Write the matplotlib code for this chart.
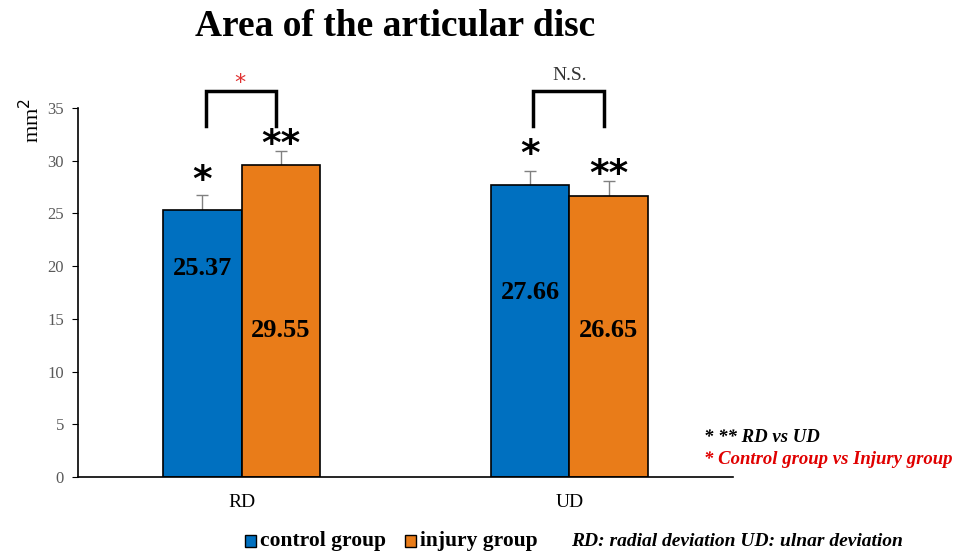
import numpy as np
import matplotlib.pyplot as plt
from matplotlib.patches import Rectangle

plt.rcParams['font.family'] = ['Liberation Serif', 'DejaVu Serif']

# data
groups = ["RD", "UD"]
control = [25.37, 27.66]
injury = [29.55, 26.65]
control_err = [1.4, 1.35]
injury_err = [1.35, 1.45]
y_ticks = [0, 5, 10, 15, 20, 25, 30, 35]
bracket_labels = ["*", "N.S."]

blue = "#0070C0"
orange = "#E97C19"
w = 0.24

fig = plt.figure(figsize=(9.63, 5.53), dpi=100)
ax = fig.add_axes([78 / 963, 1 - 477 / 553, (733 - 78) / 963, 369 / 553])

x = np.arange(len(groups))
ax.bar(x - w / 2, control, w, color=blue, edgecolor="black", linewidth=1.2, zorder=2)
ax.bar(x + w / 2, injury, w, color=orange, edgecolor="black", linewidth=1.2, zorder=2)
ax.errorbar(x - w / 2, control, yerr=[[0, 0], control_err], fmt="none",
            ecolor="#808080", elinewidth=1, capsize=4, zorder=1)
ax.errorbar(x + w / 2, injury, yerr=[[0, 0], injury_err], fmt="none",
            ecolor="#808080", elinewidth=1, capsize=4, zorder=1)

# value labels inside bars
lab_y_c = [19.8, 17.5]
lab_y_i = [13.9, 13.9]
for i in range(len(groups)):
    ax.text(x[i] - w / 2, lab_y_c[i], f"{control[i]:.2f}", ha="center", va="center",
            fontsize=19, fontweight="bold", color="black")
    ax.text(x[i] + w / 2, lab_y_i[i], f"{injury[i]:.2f}", ha="center", va="center",
            fontsize=19, fontweight="bold", color="black")

# RD vs UD stars
star_kw = dict(ha="center", va="center", fontsize=27, fontweight="bold",
               family=["DejaVu Sans"], clip_on=False)
ax.text(x[0] - w / 2, 28.1, "*", **star_kw)
ax.text(x[0] + w / 2, 31.5, "**", **star_kw)
ax.text(x[1] - w / 2, 30.5, "*", **star_kw)
ax.text(x[1] + w / 2, 28.6, "**", **star_kw)

# brackets between groups
for i in range(len(groups)):
    xl = x[i] - 0.11
    xr = x[i] + 0.105
    ax.plot([xl, xl, xr, xr], [33.3, 36.6, 36.6, 33.3], color="black", lw=2.5,
            clip_on=False, solid_joinstyle="miter")
ax.text(x[0] - 0.005, 37.4, bracket_labels[0], ha="center", va="center", fontsize=16,
        color="#E03030", family=["DejaVu Sans"], clip_on=False)
ax.text(x[1], 38.1, bracket_labels[1], ha="center", va="center", fontsize=14,
        color="#333333", clip_on=False)

ax.set_xlim(-0.5, 1.5)
ax.set_ylim(0, 35)
ax.set_yticks(y_ticks)
ax.set_xticks(x)
ax.set_xticklabels(groups, fontsize=14)
ax.tick_params(axis="x", length=0, pad=12)
ax.tick_params(axis="y", labelsize=12, labelcolor="#595959", direction="out", length=4, pad=6)
ax.spines["top"].set_visible(False)
ax.spines["right"].set_visible(False)
ax.spines["left"].set_linewidth(1.2)
ax.spines["bottom"].set_linewidth(1.2)

fig.text(32 / 963, 1 - 120 / 553, "mm$^2$", rotation=90, ha="center", va="center", fontsize=16)
fig.text(395 / 963, 1 - 27 / 553, "Area of the articular disc", ha="center", va="center",
         fontsize=27, fontweight="bold")

# notes on the right
fig.text(704 / 963, 1 - 438 / 553, "* ** RD vs UD", ha="left", va="center", fontsize=13.5,
         fontweight="bold", style="italic", color="black")
fig.text(704 / 963, 1 - 460 / 553, "* Control group vs Injury group", ha="left", va="center",
         fontsize=13.5, fontweight="bold", style="italic", color="#E00000")

# legend at bottom
ly = 1 - 541 / 553
fig.patches.append(Rectangle((245 / 963, ly - 6 / 553), 11 / 963, 12 / 553, transform=fig.transFigure,
                             facecolor=blue, edgecolor="black", lw=1))
fig.text(260 / 963, ly, "control group", ha="left", va="center", fontsize=15.5, fontweight="bold")
fig.patches.append(Rectangle((405 / 963, ly - 6 / 553), 11 / 963, 12 / 553, transform=fig.transFigure,
                             facecolor=orange, edgecolor="black", lw=1))
fig.text(420 / 963, ly, "injury group", ha="left", va="center", fontsize=15.5, fontweight="bold")
fig.text(571 / 963, ly, "RD: radial deviation UD: ulnar deviation", ha="left", va="center",
         fontsize=14, fontweight="bold", style="italic")

fig.savefig("out.png", dpi=100)
